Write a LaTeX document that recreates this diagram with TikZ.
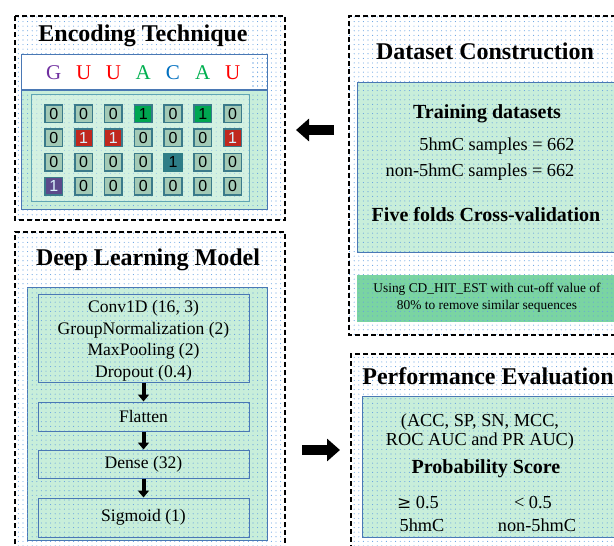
\documentclass[tikz,border=0pt]{standalone}
\usepackage{fontspec}
\setmainfont{Liberation Serif}
\newfontfamily\cellfont{Liberation Sans}
\newfontfamily\symfont{DejaVu Serif}
\usetikzlibrary{patterns.meta,arrows.meta,positioning}
\definecolor{dotblue}{RGB}{100,160,225}
\definecolor{mint}{RGB}{200,238,218}
\definecolor{boxblue}{RGB}{74,120,180}
\definecolor{notegreen}{RGB}{122,212,162}
\definecolor{cellfill}{RGB}{163,202,182}
\definecolor{cellline}{RGB}{58,122,138}
\definecolor{innerline}{RGB}{95,165,180}
\definecolor{oneGreen}{RGB}{0,166,81}
\definecolor{oneRed}{RGB}{192,40,30}
\definecolor{oneTeal}{RGB}{46,125,135}
\definecolor{onePurple}{RGB}{91,74,139}
\definecolor{lG}{RGB}{112,48,160}
\definecolor{lU}{RGB}{255,0,0}
\definecolor{lA}{RGB}{0,176,80}
\definecolor{lC}{RGB}{0,112,192}
\tikzset{
  dots/.style={pattern={Dots[distance=4.6pt,radius=0.55pt]},pattern color=dotblue},
  panel/.style={draw=black,line width=1.3pt,dash pattern=on 5pt off 3pt},
  mintbox/.style={draw=boxblue,line width=1pt,fill=mint},
  layerbox/.style={draw=boxblue,line width=1pt,minimum width=211pt,inner sep=0pt},
  title/.style={font=\fontsize{24}{28}\selectfont\bfseries},
  body/.style={font=\fontsize{18.3}{21}\selectfont},
  bodybf/.style={font=\fontsize{20}{24}\selectfont\bfseries},
  layer/.style={font=\fontsize{17.6}{21.5}\selectfont},
  cell/.style={draw=cellline,line width=1.6pt,fill=cellfill,minimum width=17.5pt,minimum height=17.5pt,inner sep=0pt,font=\cellfont\fontsize{16}{16}\selectfont},
  seqletter/.style={font=\fontsize{21}{21}\selectfont},
  bigarrow/.style={-{Triangle[length=13pt,width=22pt]},line width=10pt},
  smallarrow/.style={-{Triangle[length=7pt,width=11pt]},line width=4pt}
}
\begin{document}
\begin{tikzpicture}[x=1pt,y=-1pt]
\useasboundingbox (0,0) rectangle (614,546);
\clip (0,0) rectangle (614,546);
% ---------- Encoding Technique ----------
\path[dots] (15,16) rectangle (285,220);
\draw[panel] (15,16) rectangle (285,220);
\node[title] (encT) at (143,36) {Encoding Technique};
\path[dots] (21,54) rectangle (267,90);
\fill[white] (21,54) rectangle (252,90);
\draw[boxblue,line width=1pt] (21,54) rectangle (267,90);
\fill[mint] (21,90) rectangle (267,209);
\path[dots] (21,90) rectangle (267,209);
\draw[boxblue,line width=1pt] (21,54) rectangle (267,209);
\draw[boxblue,line width=1.2pt] (21,90) -- (267,90);
\fill[mint!60!white,opacity=0.5] (31,94) rectangle (249,201);
\draw[innerline,line width=1pt] (31,94) rectangle (249,201);
\foreach \l/\c [count=\i] in {G/lG,U/lU,U/lU,A/lA,C/lC,A/lA,U/lU}{
  \node[seqletter,text=\c] (s\i) at ({24+29.8*\i},73) {\l};
}
\foreach \r/\row in {1/{0,0,0,1,0,1,0},2/{0,1,1,0,0,0,1},3/{0,0,0,0,1,0,0},4/{1,0,0,0,0,0,0}}{
  \foreach \v [count=\j] in \row {
    \node[cell] (c\r\j) at ({24+29.8*\j},{89.5+24.2*\r}) {\v};
  }
}
\node[cell,fill=oneGreen,draw=cellline] at (c14) {1};
\node[cell,fill=oneGreen,draw=cellline] at (c16) {1};
\node[cell,fill=oneRed,draw=cellline,text=white!85!cyan] at (c22) {1};
\node[cell,fill=oneRed,draw=cellline,text=white!85!cyan] at (c23) {1};
\node[cell,fill=oneRed,draw=cellline,text=white!85!cyan] at (c27) {1};
\node[cell,fill=oneTeal,draw=oneTeal] at (c35) {1};
\node[cell,fill=onePurple,draw=cellline,text=white!85!cyan] at (c41) {1};
% ---------- Dataset Construction ----------
\path[dots] (349,16) rectangle (640,335);
\draw[panel] (640,16) -- (349,16) -- (349,335) -- (640,335);
\node[title] (dsT) at (485,51) {Dataset Construction};
\draw[mintbox] (357,82) rectangle (640,252);
\path[dots] (357,82) rectangle (640,252);
\node[bodybf] (train) at (487,114) {Training datasets};
\node[body] (pos) at (497,146) {5hmC samples = 662};
\node[body] (neg) at (480,172) {non-5hmC samples = 662};
\node[bodybf] (cv) at (486,215) {Five folds Cross-validation};
\fill[notegreen] (357,275) rectangle (640,322);
\path[dots] (357,275) rectangle (640,322);
\node[align=center,font=\fontsize{13.4}{17}\selectfont] (note) at (487,298) {Using CD\_HIT\_EST with cut-off value of\\80\% to remove similar sequences};
% ---------- Deep Learning Model ----------
\path[dots] (15,232) rectangle (285,560);
\draw[panel] (15,560) -- (15,232) -- (285,232) -- (285,560);
\node[title] (dlT) at (148,260) {Deep Learning Model};
\draw[mintbox] (27,287) rectangle (267,540);
\path[dots] (27,287) rectangle (267,540);
\node[layerbox,minimum height=88pt] (conv) at (143.5,338) {};
\node[layer,align=center] (convtxt) at (143.5,341) {Conv1D (16, 3)\\GroupNormalization (2)\\MaxPooling (2)\\Dropout (0.4)};
\node[layerbox,layer,minimum height=29pt] (flat) at (143.5,416.5) {Flatten};
\node[layerbox,layer,minimum height=28pt] (dense) at (143.5,464) {Dense (32)};
\node[layerbox,layer,minimum height=39pt] (sig) at (143.5,517.5) {Sigmoid (1)};
\draw[smallarrow] (conv.south) -- (flat.north);
\draw[smallarrow] (flat.south) -- (dense.north);
\draw[smallarrow] (dense.south) -- (sig.north);
% ---------- Performance Evaluation ----------
\path[dots] (351,354) rectangle (640,560);
\draw[panel] (640,354) -- (351,354) -- (351,560);
\node[title] (peT) at (488,376) {Performance Evaluation};
\draw[mintbox] (362,396) rectangle (640,537);
\path[dots] (362,396) rectangle (640,537);
\node[body] (m1) at (480,422) {(ACC, SP, SN, MCC,};
\node[body] (m2) at (480,441) {ROC AUC and PR AUC)};
\node[bodybf] (prob) at (486,469) {Probability Score};
\node[body] (ge) at (418,503) {{\symfont\fontsize{17}{17}\selectfont ≥} 0.5};
\node[body] (lt) at (533,503) {< 0.5};
\node[body] (y1) at (422,525) {5hmC};
\node[body] (y0) at (537,525) {non-5hmC};
% ---------- Flow arrows ----------
\coordinate (a1s) at (334,130);
\coordinate (a1e) at (296,130);
\draw[bigarrow] (a1s) -- (a1e);
\coordinate (a2s) at (302,450);
\coordinate (a2e) at (340,450);
\draw[bigarrow] (a2s) -- (a2e);
\end{tikzpicture}
\end{document}
